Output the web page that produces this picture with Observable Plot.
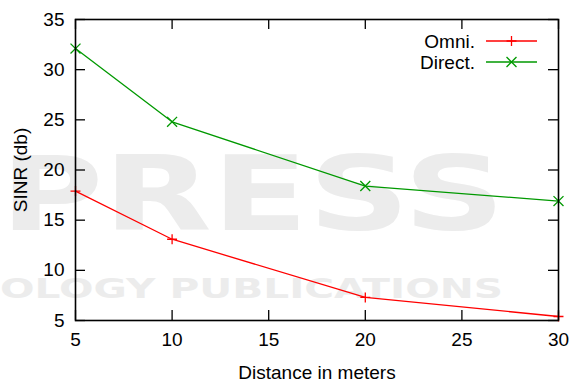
<!DOCTYPE html>
<html>
<head>
<meta charset="utf-8">
<script src="https://cdn.jsdelivr.net/npm/d3@7"></script>
<script src="https://cdn.jsdelivr.net/npm/@observablehq/plot@0.6"></script>
<style>
  body { margin: 0; background: #fff; }
  #wrap { position: relative; width: 576px; height: 385px; overflow: hidden; font-family: "Liberation Sans", Arial, sans-serif; }
  #wm, #chart, #legend { position: absolute; left: 0; top: 0; }
  #legend { width: 576px; height: 385px; pointer-events: none; }
</style>
</head>
<body>
<div id="wrap">
  <svg id="wm" width="576" height="385">
    <text x="0" y="230" font-family="DejaVu Sans" font-weight="bold" font-size="104" fill="#ececec" textLength="505" lengthAdjust="spacingAndGlyphs">PRESS</text>
    <text x="0" y="298" font-family="DejaVu Sans" font-weight="bold" font-size="27" fill="#ececec" textLength="503" lengthAdjust="spacingAndGlyphs">OLOGY PUBLICATIONS</text>
  </svg>
  <div id="chart"></div>
  <svg id="legend" width="576" height="385"></svg>
</div>
<script>
// ---- data ----
const distances = [5, 10, 20, 30];
const omni = [17.9, 13.1, 7.3, 5.4];
const direct = [32.1, 24.8, 18.4, 16.9];
const seriesNames = ["Omni.", "Direct."];
const seriesColors = ["#ff0000", "#009900"];
const seriesSymbols = ["plus", "times"];
const seriesSizes = [3.3, 4.6];
const xTicks = [5, 10, 15, 20, 25, 30];
const yTicks = [5, 10, 15, 20, 25, 30, 35];
const xLabel = "Distance in meters";
const yLabel = "SINR (db)";

const rows = [];
distances.forEach((d, i) => {
  rows.push({distance: d, sinr: omni[i], series: seriesNames[0]});
  rows.push({distance: d, sinr: direct[i], series: seriesNames[1]});
});

const W = 576, H = 385, mL = 75, mR = 18, mT = 19, mB = 65;
const fw = W - mL - mR, fh = H - mT - mB, tick = 10;

const chart = Plot.plot({
  width: W, height: H,
  marginLeft: mL, marginRight: mR, marginTop: mT, marginBottom: mB,
  style: {fontFamily: "'Liberation Sans', Arial, sans-serif", fontSize: "19px", background: "transparent", color: "#000"},
  x: {domain: [5, 30]},
  y: {domain: [5, 35]},
  color: {domain: seriesNames, range: seriesColors},
  marks: [
    // inward ticks on all four sides
    Plot.ruleX(xTicks, {x: d => d, insetTop: fh - tick, stroke: "#000", strokeWidth: 1.3}),
    Plot.ruleX(xTicks, {x: d => d, insetBottom: fh - tick, stroke: "#000", strokeWidth: 1.3}),
    Plot.ruleY(yTicks, {y: d => d, insetRight: fw - tick, stroke: "#000", strokeWidth: 1.3}),
    Plot.ruleY(yTicks, {y: d => d, insetLeft: fw - tick, stroke: "#000", strokeWidth: 1.3}),
    Plot.axisX({ticks: xTicks, tickSize: 0, tickPadding: 12, fontSize: 19, label: xLabel, labelAnchor: "center", labelOffset: 58, labelArrow: "none"}),
    Plot.axisY({ticks: yTicks, tickSize: 0, tickPadding: 11, fontSize: 19, label: yLabel, labelAnchor: "center", labelOffset: 62, labelArrow: "none"}),
    Plot.line(rows, {x: "distance", y: "sinr", stroke: "series", strokeWidth: 1.3}),
    ...seriesNames.map((name, i) =>
      Plot.dot(rows.filter(r => r.series === name), {x: "distance", y: "sinr", stroke: seriesColors[i], symbol: seriesSymbols[i], r: seriesSizes[i], strokeWidth: 1.3})
    ),
    Plot.frame({stroke: "#000", strokeWidth: 1.6})
  ]
});
document.getElementById("chart").appendChild(chart);

// ---- legend (inside top right, gnuplot style) ----
const leg = d3.select("#legend");
const legTextRight = 475, legX1 = 486, legX2 = 537, legY0 = 41, legStep = 21;
seriesNames.forEach((name, i) => {
  const y = legY0 + i * legStep;
  leg.append("text").attr("x", legTextRight).attr("y", y).attr("dy", "0.35em")
    .attr("text-anchor", "end").attr("font-family", "'Liberation Sans', Arial, sans-serif")
    .attr("font-size", 19).attr("fill", "#000").text(name);
  leg.append("line").attr("x1", legX1).attr("x2", legX2).attr("y1", y).attr("y2", y)
    .attr("stroke", seriesColors[i]).attr("stroke-width", 1.3);
  const sym = i === 0 ? d3.symbolPlus : d3.symbolTimes;
  const r = seriesSizes[i];
  leg.append("path").attr("transform", `translate(${(legX1 + legX2) / 2},${y})`)
    .attr("d", d3.symbol(sym, Math.PI * r * r)())
    .attr("fill", "none").attr("stroke", seriesColors[i]).attr("stroke-width", 1.3);
});
</script>
</body>
</html>
